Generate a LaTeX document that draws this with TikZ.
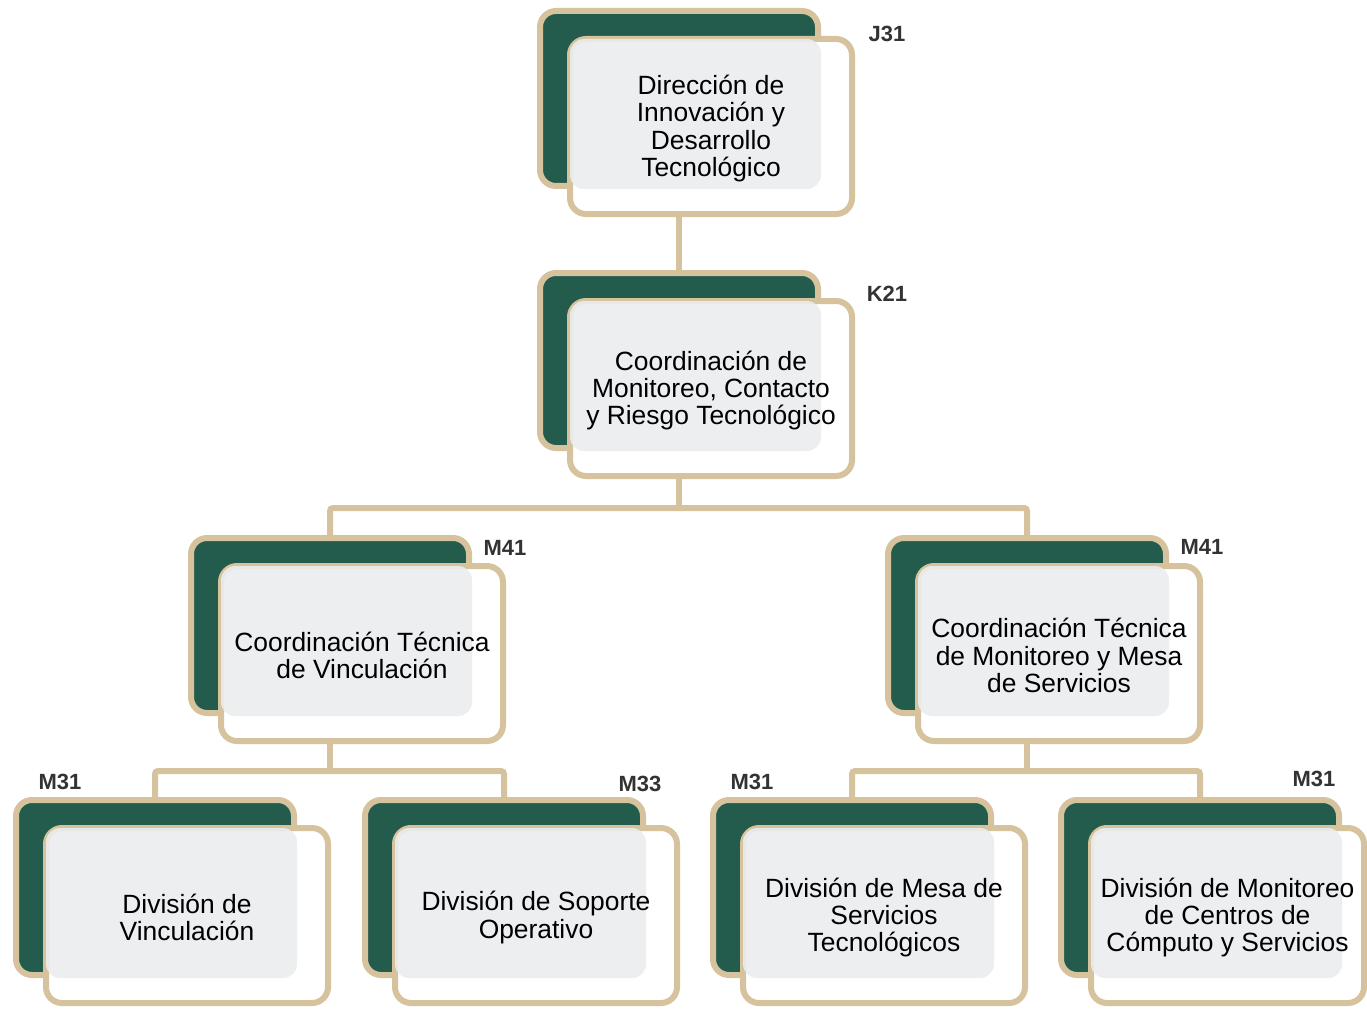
\documentclass[tikz,border=0pt]{standalone}
\usepackage{fontspec}
\setmainfont{Liberation Sans}
\usetikzlibrary{backgrounds}
\definecolor{dgreen}{HTML}{235C4C}
\definecolor{tanc}{HTML}{D6C29C}
\definecolor{lgray}{HTML}{EAEDEF}
\definecolor{lblc}{HTML}{333333}
\tikzset{
  backbox/.style={draw=tanc, line width=6pt, fill=dgreen, rounded corners=16pt,
    minimum width=278pt, minimum height=175pt, inner sep=0pt, outer sep=0pt, anchor=north west},
  frontbox/.style={draw=tanc, line width=6pt, fill=white, rounded corners=16pt,
    minimum height=175pt, inner sep=0pt, outer sep=0pt, anchor=north west},
  graybox/.style={fill=lgray, fill opacity=0.9, rounded corners=14pt,
    minimum width=251pt, minimum height=150pt, inner sep=0pt, outer sep=0pt, anchor=north west},
  txt/.style={align=center, font=\fontsize{26.4}{27.4}\selectfont, text=black, inner sep=0pt},
  lbl/.style={font=\fontsize{22}{24}\selectfont\bfseries, text=lblc, inner sep=0pt},
  conn/.style={draw=tanc, line width=6pt, rounded corners=3pt}
}
\newcommand\orgunit[5][282]{%
  \node[backbox] (#2) at (#3+3,#4+3) {};
  \node[frontbox, minimum width=#1pt] (#2f) at (#3+33,#4+31) {};
  \node[graybox] (#2g) at (#3+33,#4+31) {};
  \node[txt] (#2t) at ([yshift=-2pt]#2f.center) {#5};
}
\begin{document}
\begin{tikzpicture}[x=1pt,y=-1pt]
\useasboundingbox (0,0) rectangle (1367,1011);
\orgunit{b1}{537}{8}{Dirección de\\Innovación y\\Desarrollo\\Tecnológico}
\orgunit{b2}{537}{270}{Coordinación de\\Monitoreo, Contacto\\y Riesgo Tecnológico}
\orgunit{b3}{188}{535}{Coordinación Técnica\\de Vinculación}
\orgunit{b4}{885}{535}{Coordinación Técnica\\de Monitoreo y Mesa\\de Servicios}
\orgunit{b5}{13}{797}{División de\\Vinculación}
\orgunit{b6}{362}{797}{División de Soporte\\Operativo}
\orgunit{b7}{710}{797}{División de Mesa de\\Servicios\\Tecnológicos}
\orgunit[273]{b8}{1058}{797}{División de Monitoreo\\de Centros de\\Cómputo y Servicios}
\node[lbl] (l1) at (887,34) {J31};
\node[lbl] (l2) at (887,294) {K21};
\node[lbl] (l3) at (505,548) {M41};
\node[lbl] (l4) at (1202,547) {M41};
\node[lbl] (l5) at (60,782) {M31};
\node[lbl] (l6) at (640,784) {M33};
\node[lbl] (l7) at (752,782) {M31};
\node[lbl] (l8) at (1314,779) {M31};
\coordinate (bus1) at (679,508);
\coordinate (bus2) at (330,771);
\coordinate (bus3) at (1027,771);
\begin{scope}[on background layer]
  \fill[white] (0,0) rectangle (1367,1011);
  \draw[conn] (b1.south) -- (b2.north);
  \draw[conn] (b2.south) -- (bus1);
  \draw[conn] (b3.north) |- (bus1) -| (b4.north);
  \draw[conn] (b3.south) -- (bus2);
  \draw[conn] (b5.north) |- (bus2) -| (b6.north);
  \draw[conn] (b4.south) -- (bus3);
  \draw[conn] (b7.north) |- (bus3) -| (b8.north);
\end{scope}
\end{tikzpicture}
\end{document}
